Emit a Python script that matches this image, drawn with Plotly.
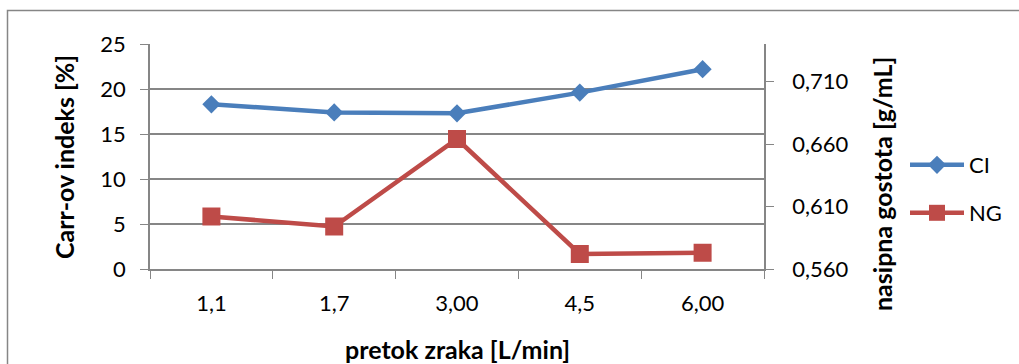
import plotly.graph_objects as go

categories = ["1,1", "1,7", "3,00", "4,5", "6,00"]
ci_values = [18.3, 17.4, 17.3, 19.6, 22.2]
ng_values = [0.602, 0.594, 0.664, 0.572, 0.573]

FONT = "Lato"
GRID = "#868686"
BLUE = "#4A7EBB"
RED = "#BE4B48"
TICK = 22
TITLE = 25

W, H = 1019, 364
L, R, T, B = 150, 255, 44, 95
pw, ph = W - L - R, H - T - B

def px_x(x):
    return (x - L) / pw

def px_y(y):
    return (H - B - y) / ph

fig = go.Figure()
fig.add_trace(go.Scatter(
    x=categories, y=ci_values, name="CI", mode="lines+markers",
    line=dict(color=BLUE, width=4.5),
    marker=dict(symbol="diamond", size=14, color=BLUE),
    legend="legend",
))
fig.add_trace(go.Scatter(
    x=categories, y=ng_values, name="NG", mode="lines+markers",
    line=dict(color=RED, width=4.5),
    marker=dict(symbol="square", size=18, color=RED),
    yaxis="y2", legend="legend2",
))

fig.update_layout(
    width=W, height=H,
    margin=dict(l=L, r=R, t=T, b=B),
    paper_bgcolor="white", plot_bgcolor="white",
    separators=",.",
    font=dict(family=FONT, size=TICK, color="black"),
    xaxis=dict(
        type="category", tickson="boundaries", ticks="outside", ticklen=8,
        tickcolor=GRID, showline=True, linecolor=GRID, linewidth=1.5,
        showgrid=False, tickfont=dict(size=TICK), ticklabelstandoff=14,
        range=[-0.5, 4.5],
    ),
    yaxis=dict(
        range=[0, 25], dtick=5, ticks="outside", ticklen=8, tickcolor=GRID,
        showline=True, linecolor=GRID, linewidth=1.5,
        showgrid=True, gridcolor=GRID, gridwidth=1.5,
        zeroline=False, tickfont=dict(size=TICK), ticklabelstandoff=10,
    ),
    yaxis2=dict(
        overlaying="y", side="right", range=[0.56, 0.74],
        tickvals=[0.56, 0.61, 0.66, 0.71], tickformat=".3f",
        ticks="outside", ticklen=8, tickcolor=GRID,
        showline=True, linecolor=GRID, linewidth=1.5,
        showgrid=False, zeroline=False, tickfont=dict(size=TICK),
        ticklabelstandoff=14,
    ),
    legend=dict(x=px_x(905), y=px_y(165), xanchor="left", yanchor="middle",
                bgcolor="rgba(0,0,0,0)", font=dict(size=TICK), itemwidth=54),
    legend2=dict(x=px_x(905), y=px_y(213), xanchor="left", yanchor="middle",
                 bgcolor="rgba(0,0,0,0)", font=dict(size=TICK), itemwidth=54),
    showlegend=True,
)

fig.add_annotation(text="<b>Carr-ov indeks [%]</b>", x=px_x(64), y=px_y(157),
                   xref="paper", yref="paper", textangle=-90, showarrow=False,
                   font=dict(size=TITLE), xanchor="center", yanchor="middle")
fig.add_annotation(text="<b>nasipna gostota [g/mL]</b>", x=px_x(882), y=px_y(184),
                   xref="paper", yref="paper", textangle=-90, showarrow=False,
                   font=dict(size=TITLE), xanchor="center", yanchor="middle")
fig.add_annotation(text="<b>pretok zraka [L/min]</b>", x=px_x(457), y=px_y(349),
                   xref="paper", yref="paper", showarrow=False,
                   font=dict(size=TITLE), xanchor="center", yanchor="middle")

fig.add_shape(type="rect", xref="paper", yref="paper",
              x0=px_x(7.5), x1=px_x(1040), y0=px_y(400), y1=px_y(10.5),
              line=dict(color=GRID, width=1.5), fillcolor="rgba(0,0,0,0)",
              layer="below")

fig.write_html("out.html")
